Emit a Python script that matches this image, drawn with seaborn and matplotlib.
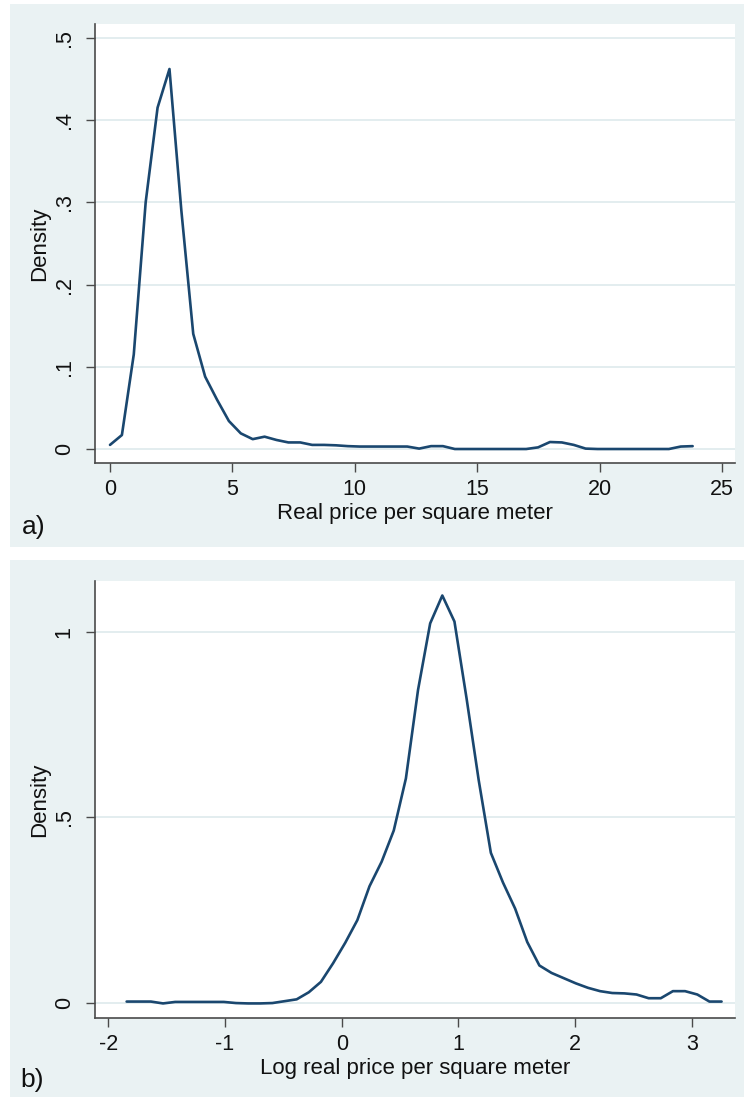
import numpy as np
import pandas as pd
import matplotlib
matplotlib.use("Agg")
import matplotlib.pyplot as plt
import seaborn as sns
from matplotlib.patches import Rectangle

# ---------------- data ----------------
# Panel a: kernel density of real price per square meter (50 evaluation points)
a_x = [0.000, 0.486, 0.971, 1.457, 1.943, 2.429, 2.914, 3.400, 3.886, 4.371,
       4.857, 5.343, 5.829, 6.314, 6.800, 7.286, 7.771, 8.257, 8.743, 9.229,
       9.714, 10.200, 10.686, 11.171, 11.657, 12.143, 12.629, 13.114, 13.600, 14.086,
       14.571, 15.057, 15.543, 16.029, 16.514, 17.000, 17.486, 17.971, 18.457, 18.943,
       19.429, 19.914, 20.400, 20.886, 21.371, 21.857, 22.343, 22.829, 23.314, 23.800]
a_y = [0.005, 0.017, 0.115, 0.300, 0.415, 0.462, 0.290, 0.140, 0.088, 0.060,
       0.034, 0.019, 0.012, 0.015, 0.011, 0.008, 0.008, 0.005, 0.005, 0.0045,
       0.0035, 0.003, 0.003, 0.003, 0.003, 0.003, 0.0005, 0.0035, 0.0035, 0.0,
       0.0, 0.0, 0.0, 0.0, 0.0, 0.0, 0.002, 0.0085, 0.008, 0.005,
       0.0005, 0.0, 0.0, 0.0, 0.0, 0.0, 0.0, 0.0, 0.003, 0.0035]
a_xticks = [0, 5, 10, 15, 20, 25]
a_yticks = [0, 0.1, 0.2, 0.3, 0.4, 0.5]
a_ytick_labels = ["0", ".1", ".2", ".3", ".4", ".5"]

# Panel b: kernel density of log real price per square meter
b_x = [-1.843, -1.739, -1.635, -1.531, -1.427, -1.323, -1.219, -1.115, -1.010, -0.906,
       -0.802, -0.698, -0.594, -0.490, -0.386, -0.282, -0.178, -0.074, 0.030, 0.134,
       0.238, 0.342, 0.446, 0.550, 0.654, 0.758, 0.862, 0.966, 1.070, 1.174,
       1.278, 1.382, 1.486, 1.590, 1.694, 1.798, 1.902, 2.006, 2.110, 2.214,
       2.318, 2.422, 2.526, 2.630, 2.734, 2.838, 2.942, 3.047, 3.151, 3.255]
b_y = [0.005, 0.005, 0.005, 0.000, 0.004, 0.004, 0.004, 0.004, 0.004, 0.001,
       0.000, 0.000, 0.001, 0.006, 0.011, 0.030, 0.058, 0.108, 0.163, 0.224,
       0.315, 0.381, 0.465, 0.605, 0.843, 1.022, 1.097, 1.027, 0.820, 0.600,
       0.405, 0.325, 0.255, 0.165, 0.102, 0.082, 0.068, 0.054, 0.042, 0.033,
       0.028, 0.027, 0.024, 0.014, 0.014, 0.033, 0.033, 0.024, 0.005, 0.005]
b_xticks = [-2, -1, 0, 1, 2, 3]
b_xtick_labels = ["-2", "-1", "0", "1", "2", "3"]
b_yticks = [0, 0.5, 1]
b_ytick_labels = ["0", ".5", "1"]

x_label_a = "Real price per square meter"
x_label_b = "Log real price per square meter"
y_label = "Density"

# ---------------- style ----------------
sns.set_style("white")
plt.rcParams["font.family"] = ["Liberation Sans", "DejaVu Sans"]

W, H = 744, 1097
fig = plt.figure(figsize=(W / 100, H / 100), dpi=100)
fig.patch.set_facecolor("white")

region_col = "#EAF2F3"
grid_col = "#E3EDEF"
line_col = "#1A476F"
axis_col = "#4A4A4A"
text_col = "#111111"
tick_fs = 15.5
lab_fs = 16

# graph regions (light bluish gray)
fig.patches.append(Rectangle((10 / W, 1 - 547 / H), 1 - 10 / W, 543 / H,
                             transform=fig.transFigure, facecolor=region_col,
                             edgecolor="none", zorder=-10))
fig.patches.append(Rectangle((10 / W, 0), 1 - 10 / W, 537 / H,
                             transform=fig.transFigure, facecolor=region_col,
                             edgecolor="none", zorder=-10))

def px_axes(left, top, right, bottom):
    ax = fig.add_axes([left / W, 1 - bottom / H, (right - left) / W, (bottom - top) / H])
    ax.set_zorder(5)
    return ax

ax_a = px_axes(95, 24, 735, 463)
ax_b = px_axes(95, 581, 735, 1018.3)

def style(ax):
    ax.set_facecolor("white")
    for s in ["top", "right"]:
        ax.spines[s].set_visible(False)
    for s in ["left", "bottom"]:
        ax.spines[s].set_color(axis_col)
        ax.spines[s].set_linewidth(1.2)
    ax.tick_params(axis="both", which="major", length=6.5, width=1.0,
                   color=axis_col, labelsize=tick_fs, labelcolor=text_col,
                   direction="out", left=True, bottom=True)
    ax.tick_params(axis="y", pad=8)
    ax.tick_params(axis="x", pad=5)
    ax.yaxis.grid(True, color=grid_col, linewidth=1.4)
    ax.xaxis.grid(False)
    ax.set_axisbelow(True)

# ---- panel a ----
df_a = pd.DataFrame({"x": a_x, "y": a_y})
sns.lineplot(data=df_a, x="x", y="y", ax=ax_a, color=line_col, linewidth=1.9)
style(ax_a)
ax_a.set_xlim(-0.613, 25.53)
ax_a.set_ylim(-0.017, 0.5167)
ax_a.set_xticks(a_xticks)
ax_a.set_xticklabels([str(t) for t in a_xticks])
ax_a.set_yticks(a_yticks)
ax_a.set_yticklabels(a_ytick_labels, rotation=90, va="center")
ax_a.set_xlabel(x_label_a, fontsize=lab_fs, color=text_col, labelpad=2)
ax_a.set_ylabel(y_label, fontsize=lab_fs, color=text_col, labelpad=3)

# ---- panel b ----
df_b = pd.DataFrame({"x": b_x, "y": b_y})
sns.lineplot(data=df_b, x="x", y="y", ax=ax_b, color=line_col, linewidth=1.9)
style(ax_b)
ax_b.set_xlim(-2.114, 3.370)
ax_b.set_ylim(-0.040, 1.136)
ax_b.set_xticks(b_xticks)
ax_b.set_xticklabels(b_xtick_labels)
ax_b.set_yticks(b_yticks)
ax_b.set_yticklabels(b_ytick_labels, rotation=90, va="center")
ax_b.set_xlabel(x_label_b, fontsize=lab_fs, color=text_col, labelpad=2)
ax_b.set_ylabel(y_label, fontsize=lab_fs, color=text_col, labelpad=3)

fig.text(22 / W, 1 - 534 / H, "a)", fontsize=19, color=text_col, ha="left", va="baseline", zorder=10)
fig.text(20 / W, 1 - 1087 / H, "b)", fontsize=19, color=text_col, ha="left", va="baseline", zorder=10)

fig.savefig("out.png", dpi=100, facecolor="white")
